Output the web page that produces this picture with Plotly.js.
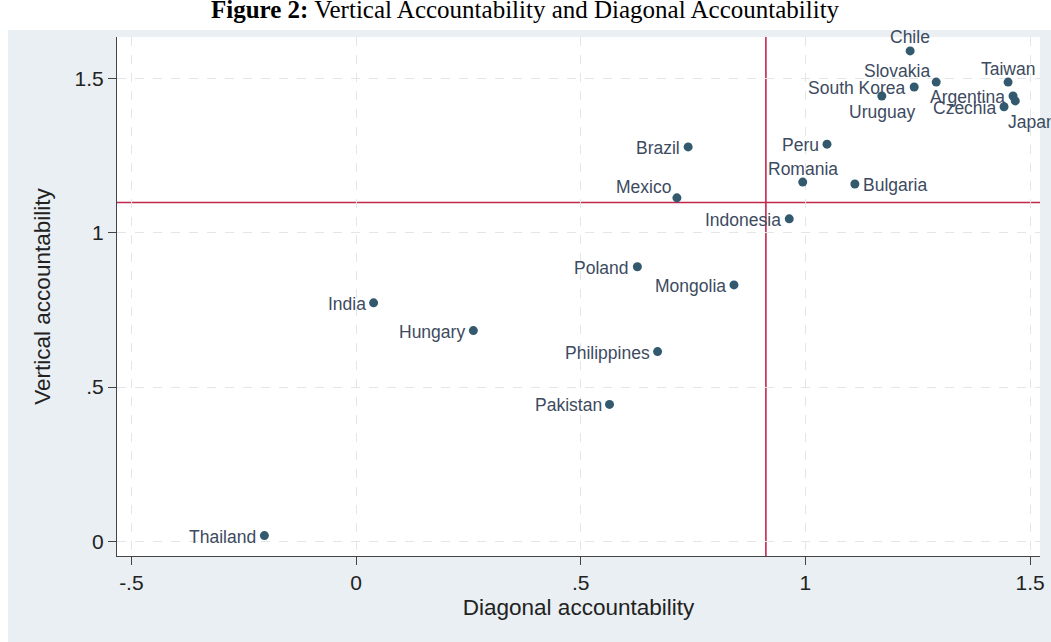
<!DOCTYPE html>
<html>
<head>
<meta charset="utf-8">
<script src="https://cdn.plot.ly/plotly-3.0.1.min.js"></script>
<style>
  html, body { margin: 0; padding: 0; background: #ffffff; }
  #chart { width: 1051px; height: 642px; }
</style>
</head>
<body>
<div id="chart"></div>
<script>
// Country scores on the two accountability indices
const countries = [
  "Chile", "Slovakia", "South Korea", "Uruguay", "Taiwan", "Argentina", "Japan", "Czechia",
  "Peru", "Brazil", "Romania", "Bulgaria", "Mexico", "Indonesia", "Poland", "Mongolia",
  "India", "Hungary", "Philippines", "Pakistan", "Thailand"
];
const diagonal = [
  1.233, 1.291, 1.242, 1.170, 1.451, 1.462, 1.467, 1.442,
  1.048, 0.739, 0.994, 1.110, 0.714, 0.964, 0.626, 0.841,
  0.039, 0.261, 0.671, 0.564, -0.204
];
const vertical = [
  1.589, 1.488, 1.472, 1.443, 1.488, 1.443, 1.427, 1.408,
  1.287, 1.278, 1.164, 1.158, 1.113, 1.045, 0.890, 0.831,
  0.773, 0.683, 0.615, 0.444, 0.019
];

// Reference lines splitting the plot into quadrants
const diagonalCutoff = 0.912;
const verticalCutoff = 1.098;

// Axis ticks
const xTickVals = [-0.5, 0, 0.5, 1, 1.5];
const xTickText = ["-.5", "0", ".5", "1", "1.5"];
const yTickVals = [0, 0.5, 1, 1.5];
const yTickText = ["0", ".5", "1", "1.5"];

// Label placement around a marker (clock-style positions)
const placements = {
  left:        { xanchor: "right",  xshift: -7, yshift: -1 },
  right:       { xanchor: "left",   xshift: 7,  yshift: -1 },
  above:       { xanchor: "center", xshift: 0,  yshift: 13.5 },
  aboveLeft:   { xanchor: "right",  xshift: -5, yshift: 11 },
  below:       { xanchor: "center", xshift: 0,  yshift: -16 },
  belowRight:  { xanchor: "left",   xshift: -8, yshift: -21 }
};
const labelPlacement = {
  "Chile": "above", "Slovakia": "aboveLeft", "South Korea": "left",
  "Uruguay": "below", "Taiwan": "above", "Argentina": "left",
  "Japan": "belowRight", "Czechia": "left", "Peru": "left",
  "Brazil": "left", "Romania": "above", "Bulgaria": "right",
  "Mexico": "aboveLeft", "Indonesia": "left", "Poland": "left",
  "Mongolia": "left", "India": "left", "Hungary": "left",
  "Philippines": "left", "Pakistan": "left", "Thailand": "left"
};

const markerColor = "#33596f";
const labelColor = "#3d4b5f";
const refColor = "#c0284d";
const panelColor = "#e9eff2";
const sans = "Liberation Sans, Arial, Helvetica, sans-serif";

const trace = {
  type: "scatter",
  mode: "markers",
  x: diagonal,
  y: vertical,
  text: countries,
  marker: { size: 9, color: markerColor },
  cliponaxis: false,
  hoverinfo: "text+x+y",
  showlegend: false
};

const labelAnnotations = countries.map((name, i) => {
  const p = placements[labelPlacement[name]];
  return {
    xref: "x", yref: "y",
    x: diagonal[i], y: vertical[i],
    text: name,
    showarrow: false,
    xanchor: p.xanchor, yanchor: "middle",
    xshift: p.xshift, yshift: p.yshift,
    borderpad: 0,
    font: { family: sans, size: 17.5, color: labelColor }
  };
});

// Plot-area pixel box inside the 1051x642 page
const W = 1051, H = 642;
const m = { l: 117, r: 11, t: 37, b: 86 };
const pw = W - m.l - m.r, ph = H - m.t - m.b;
const px = p => (p - m.l) / pw;          // page x -> paper x
const py = p => (H - m.b - p) / ph;      // page y -> paper y

const axisCommon = {
  tickmode: "array",
  ticks: "outside",
  ticklen: 8,
  tickcolor: "#444444",
  tickfont: { family: sans, size: 21, color: "#222222" },
  showline: true,
  linecolor: "#444444",
  linewidth: 1,
  showgrid: true,
  gridcolor: "#e3e6e9",
  griddash: "dash",
  gridwidth: 1,
  zeroline: false
};

const layout = {
  width: W,
  height: H,
  margin: m,
  paper_bgcolor: panelColor,
  plot_bgcolor: "#ffffff",
  font: { family: sans, color: "#222222" },
  xaxis: Object.assign({}, axisCommon, {
    range: [-0.532, 1.522],
    tickvals: xTickVals,
    ticktext: xTickText,
    title: { text: "Diagonal accountability", font: { family: sans, size: 22.5, color: "#222222" }, standoff: 6 }
  }),
  yaxis: Object.assign({}, axisCommon, {
    range: [-0.047, 1.634],
    tickvals: yTickVals,
    ticktext: yTickText,
    title: { text: "Vertical accountability", font: { family: sans, size: 22.5, color: "#222222" }, standoff: 17 }
  }),
  shapes: [
    // white page strip above the grey panel (title band)
    { type: "rect", xref: "paper", yref: "paper", layer: "below",
      x0: px(0), x1: px(W), y0: py(30), y1: py(0) + 0.05,
      fillcolor: "#ffffff", line: { width: 0 } },
    // white page strip left of the grey panel
    { type: "rect", xref: "paper", yref: "paper", layer: "below",
      x0: px(0) - 0.05, x1: px(8), y0: py(H) - 0.05, y1: py(0) + 0.05,
      fillcolor: "#ffffff", line: { width: 0 } },
    // quadrant reference lines
    { type: "line", xref: "x", yref: "paper", layer: "below",
      x0: diagonalCutoff, x1: diagonalCutoff, y0: 0, y1: 1,
      line: { color: refColor, width: 1.6 } },
    { type: "line", xref: "paper", yref: "y", layer: "below",
      x0: 0, x1: 1, y0: verticalCutoff, y1: verticalCutoff,
      line: { color: refColor, width: 1.6 } }
  ],
  annotations: labelAnnotations.concat([
    {
      xref: "paper", yref: "paper",
      x: px(525), y: py(10),
      xanchor: "center", yanchor: "middle",
      showarrow: false,
      text: "<b>Figure 2:</b> Vertical Accountability and Diagonal Accountability",
      font: { family: "Liberation Serif, Times New Roman, serif", size: 25, color: "#000000" }
    }
  ])
};

Plotly.newPlot("chart", [trace], layout, { displayModeBar: false, staticPlot: true });
</script>
</body>
</html>
